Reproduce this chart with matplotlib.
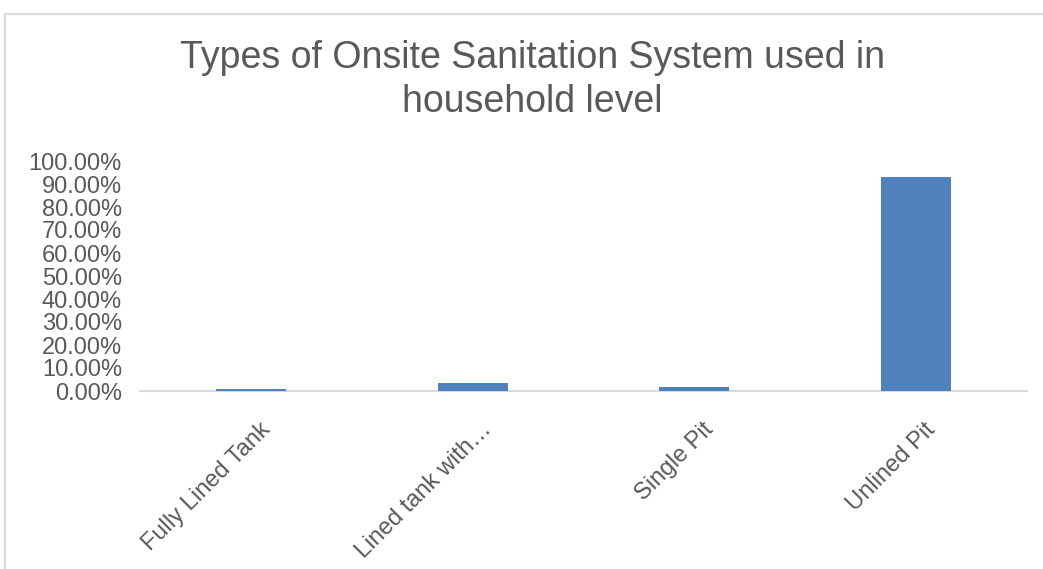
import matplotlib
matplotlib.use("Agg")
import matplotlib.pyplot as plt
import matplotlib.transforms as mtransforms
from matplotlib.patches import Rectangle
from matplotlib.ticker import FuncFormatter, MultipleLocator

categories = ["Fully Lined Tank", "Lined tank with…", "Single Pit", "Unlined Pit"]
values = [1.0, 3.4, 1.8, 93.0]
title = "Types of Onsite Sanitation System used in\nhousehold level"

plt.rcParams['font.family'] = ['Liberation Sans', 'DejaVu Sans']
W, H = 1043, 569
fig = plt.figure(figsize=(W/100, H/100), dpi=100)

# outer chart border (cropped at right/bottom)
fig.patches.append(Rectangle((5/W, -0.1), 1.2, 1 - 14/H + 0.1, transform=fig.transFigure,
                             fill=False, edgecolor='#d9d9d9', linewidth=1.5))

ax = fig.add_axes([140/W, 1 - 391/H, (1027-140)/W, (391-161)/H])
x = range(len(categories))
ax.bar(x, values, width=0.315, color='#4f81bd', zorder=3)
ax.set_xlim(-0.5, len(categories) - 0.5)
ax.set_ylim(0, 100)
ax.yaxis.set_major_locator(MultipleLocator(10))
ax.yaxis.set_major_formatter(FuncFormatter(lambda v, p: f"{v:.2f}%"))
for s in ['top', 'right', 'left']:
    ax.spines[s].set_visible(False)
ax.spines['bottom'].set_color('#d9d9d9')
ax.spines['bottom'].set_linewidth(1.5)
ax.spines['bottom'].set_zorder(2)
ax.tick_params(axis='y', length=0, labelsize=17, labelcolor='#595959', pad=13)
ax.tick_params(axis='x', length=0, labelsize=17, labelcolor='#595959', pad=20)
ax.set_xticks(list(x))
ax.set_xticklabels(categories, rotation=45, ha='right', rotation_mode='anchor')
offset = mtransforms.ScaledTranslation(8/100, 0, fig.dpi_scale_trans)
for lbl in ax.get_xticklabels():
    lbl.set_transform(lbl.get_transform() + offset)

fig.text(532/W, 1 - 80/H, title, ha='center', va='center', fontsize=27,
         color='#595959', linespacing=1.28)

fig.savefig("out.png", dpi=100, facecolor='white')
